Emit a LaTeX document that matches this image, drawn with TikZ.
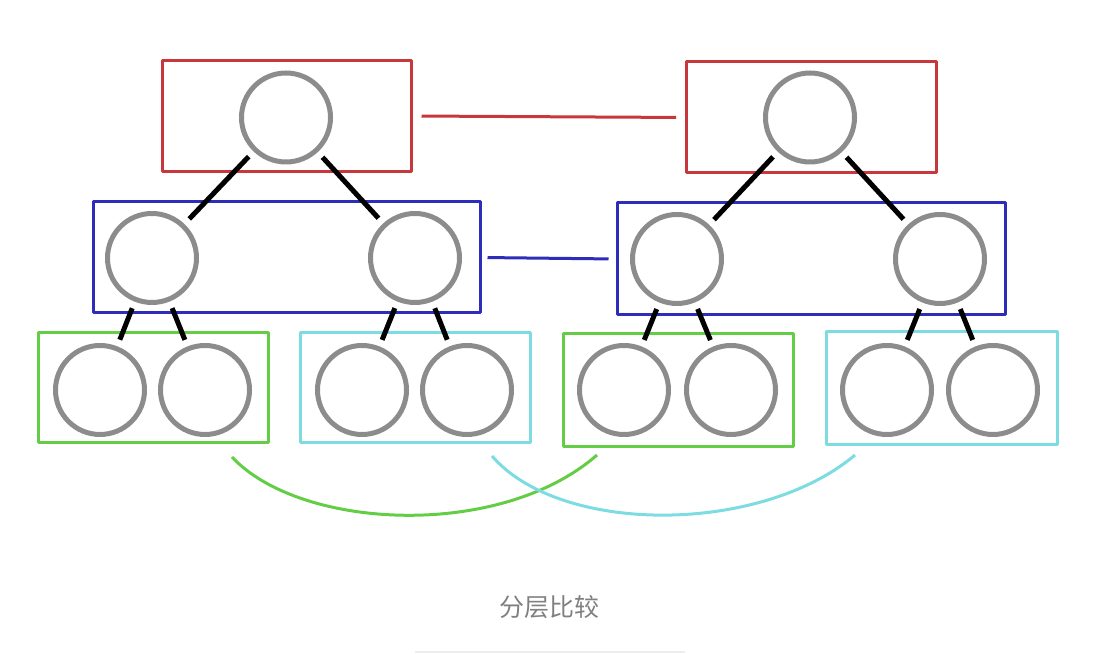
\documentclass[tikz,border=0pt]{standalone}
\usepackage{fontspec}
\newfontfamily\cjk{Noto Sans CJK SC}
\definecolor{layerred}{RGB}{200,55,60}
\definecolor{layerblue}{RGB}{45,45,185}
\definecolor{layergreen}{RGB}{100,205,70}
\definecolor{layercyan}{RGB}{125,220,225}
\definecolor{captiongray}{RGB}{128,128,128}
\begin{document}
\begin{tikzpicture}[>=latex,line join=bevel,
    vertex/.style={circle,draw=black!45,line width=5bp,minimum size=89bp,inner sep=0pt},
    layer/.style={rectangle,line width=3bp,inner sep=0pt},
    edge/.style={line width=5bp,shorten <=7bp,shorten >=7bp},
    link/.style={line width=3bp,shorten <=9bp,shorten >=9bp},
    ]
    %%
    \useasboundingbox (0bp,0bp) rectangle (1098bp,654bp);
    %% layers, left tree
    \node (Lred) at (286.5bp,538.0bp) [layer,draw=layerred,minimum width=249bp,minimum height=111bp] {};
    \node (Lblue) at (286.5bp,396.5bp) [layer,draw=layerblue,minimum width=387bp,minimum height=111bp] {};
    \node (Lgreen) at (153.0bp,266.0bp) [layer,draw=layergreen,minimum width=230bp,minimum height=110bp] {};
    \node (Lcyan) at (415.0bp,266.0bp) [layer,draw=layercyan,minimum width=230bp,minimum height=110bp] {};
    %% layers, right tree
    \node (Rred) at (811.5bp,536.5bp) [layer,draw=layerred,minimum width=250bp,minimum height=111bp] {};
    \node (Rblue) at (811.0bp,395.0bp) [layer,draw=layerblue,minimum width=388bp,minimum height=112bp] {};
    \node (Rgreen) at (678.0bp,264.0bp) [layer,draw=layergreen,minimum width=230bp,minimum height=113bp] {};
    \node (Rcyan) at (941.5bp,265.5bp) [layer,draw=layercyan,minimum width=231bp,minimum height=113bp] {};
    %% vertices, left tree
    \node (L) at (286.0bp,536.5bp) [vertex] {};
    \node (L1) at (152.0bp,396.0bp) [vertex] {};
    \node (L2) at (415.0bp,396.0bp) [vertex] {};
    \node (L11) at (100.0bp,264.0bp) [vertex] {};
    \node (L12) at (205.0bp,264.0bp) [vertex] {};
    \node (L21) at (362.0bp,264.0bp) [vertex] {};
    \node (L22) at (467.0bp,264.0bp) [vertex] {};
    %% vertices, right tree
    \node (R) at (810.0bp,536.5bp) [vertex] {};
    \node (R1) at (677.0bp,395.0bp) [vertex] {};
    \node (R2) at (940.0bp,395.0bp) [vertex] {};
    \node (R11) at (624.0bp,264.0bp) [vertex] {};
    \node (R12) at (731.0bp,264.0bp) [vertex] {};
    \node (R21) at (887.0bp,264.0bp) [vertex] {};
    \node (R22) at (993.0bp,264.0bp) [vertex] {};
    %% tree edges
    \draw [edge] (L) -- (L1);
    \draw [edge] (L) -- (L2);
    \draw [edge] (L1) -- (L11);
    \draw [edge] (L1) -- (L12);
    \draw [edge] (L2) -- (L21);
    \draw [edge] (L2) -- (L22);
    \draw [edge] (R) -- (R1);
    \draw [edge] (R) -- (R2);
    \draw [edge] (R1) -- (R11);
    \draw [edge] (R1) -- (R12);
    \draw [edge] (R2) -- (R21);
    \draw [edge] (R2) -- (R22);
    %% links between layers
    \draw [link,draw=layerred] (Lred.east) -- (Rred.west);
    \draw [link,draw=layerblue,shorten <=6bp,shorten >=7bp] (Lblue.east) -- (Rblue.west);
    \coordinate (gA) at (232.0bp,197.0bp);
    \coordinate (gB) at (597.0bp,199.0bp);
    \coordinate (cA) at (492.0bp,198.0bp);
    \coordinate (cB) at (855.0bp,199.0bp);
    \draw [line width=3bp,draw=layergreen] (gA) ..controls (300.0bp,124.0bp) and (500.0bp,114.0bp) .. (gB);
    \draw [line width=3bp,draw=layercyan] (cA) ..controls (560.0bp,119.0bp) and (760.0bp,119.0bp) .. (cB);
    %% caption
    \node (cap) at (549.0bp,47.0bp) [text=captiongray,font=\cjk\fontsize{25bp}{30bp}\selectfont] {分层比较};
    \coordinate (ruleA) at (415.0bp,2.0bp);
    \coordinate (ruleB) at (685.0bp,2.0bp);
    \draw [black!7,line width=1.5bp] (ruleA) -- (ruleB);
    %
\end{tikzpicture}
\end{document}
